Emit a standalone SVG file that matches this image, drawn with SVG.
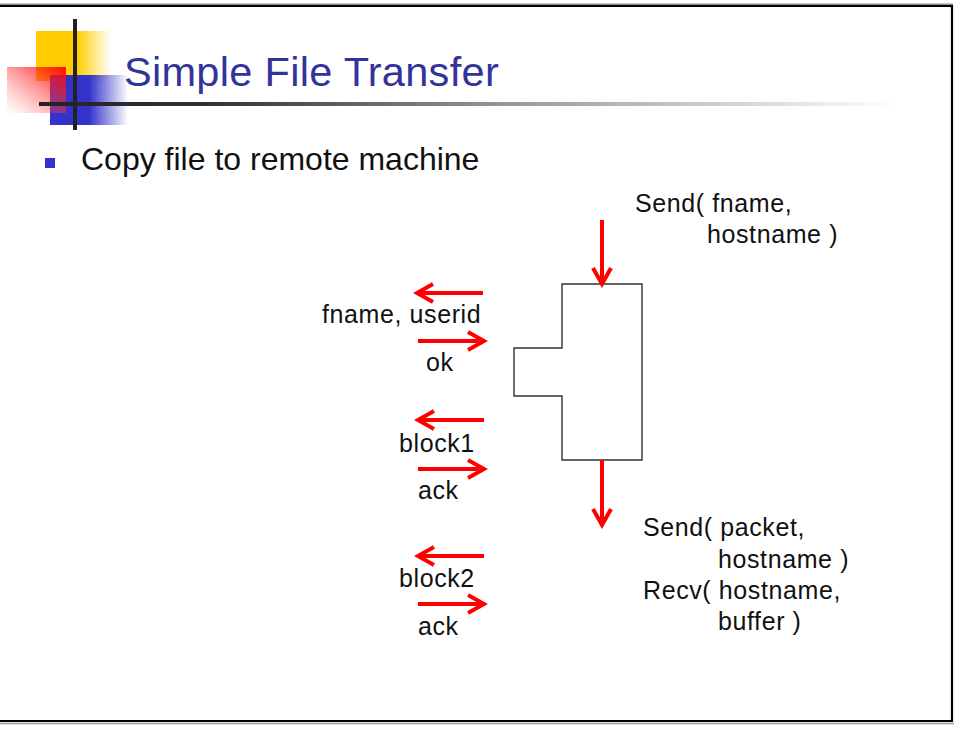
<svg xmlns="http://www.w3.org/2000/svg" width="956" height="729" viewBox="0 0 956 729">
<style>
.t{font-family:"Liberation Sans",Arial,sans-serif;fill:#111;font-size:25px;letter-spacing:0.6px}
.conn{stroke:#ff0000;stroke-width:4;fill:none}
.box{fill:#fff;stroke:#333;stroke-width:1.4}
</style>
<defs>
<marker id="v" viewBox="-20 -12 24 24" refX="0" refY="0" markerWidth="24" markerHeight="24" markerUnits="userSpaceOnUse" orient="auto">
<path d="M-16,-9 L0,0 L-16,9" fill="none" stroke="#ff0000" stroke-width="4" stroke-linejoin="miter"/>
</marker>
<linearGradient id="gy" x1="0" y1="0" x2="1" y2="0">
<stop offset="0" stop-color="#ffcc00"/><stop offset="0.55" stop-color="#ffcc00"/><stop offset="1" stop-color="#ffcc00" stop-opacity="0"/>
</linearGradient>
<linearGradient id="gb" x1="0" y1="0" x2="1" y2="0">
<stop offset="0" stop-color="#3333cc"/><stop offset="0.5" stop-color="#3333cc"/><stop offset="1" stop-color="#3333cc" stop-opacity="0"/>
</linearGradient>
<linearGradient id="gr" x1="1" y1="0" x2="0" y2="1">
<stop offset="0" stop-color="#ff0000" stop-opacity="0.95"/><stop offset="1" stop-color="#ff6666" stop-opacity="0"/>
</linearGradient>
<linearGradient id="gl" x1="0" y1="0" x2="1" y2="0">
<stop offset="0" stop-color="#222"/><stop offset="0.2" stop-color="#333"/><stop offset="0.55" stop-color="#999"/><stop offset="1" stop-color="#fff"/>
</linearGradient>
</defs>
<rect x="0" y="0" width="956" height="729" fill="#fff"/>
<g id="frame" fill="none">
<line x1="0" y1="4" x2="953" y2="4" stroke="#888" stroke-width="1"/>
<line x1="0" y1="5.8" x2="953" y2="5.8" stroke="#000" stroke-width="2.2"/>
<line x1="952" y1="5" x2="952" y2="722" stroke="#000" stroke-width="2.2"/>
<line x1="0" y1="721" x2="953" y2="721" stroke="#000" stroke-width="2.2"/>
<line x1="0" y1="723.5" x2="954" y2="723.5" stroke="#999" stroke-width="1.5"/>
</g>
<g id="logo">
<rect x="36" y="31" width="75" height="50" fill="url(#gy)"/>
<rect x="50" y="75" width="78" height="50" fill="url(#gb)"/>
<rect x="7" y="67" width="59" height="46" fill="url(#gr)"/>
<rect x="73" y="19" width="4" height="111" fill="#222"/>
<rect x="39" y="102" width="860" height="4" fill="url(#gl)"/>
</g>
<g id="title">
<text x="124" y="86" style="font-family:'Liberation Sans',Arial,sans-serif;font-size:41.5px;fill:#333399;letter-spacing:0.3px">Simple File Transfer</text>
</g>
<g id="bullet">
<rect x="45" y="158" width="10" height="10" fill="#3333cc"/>
<text x="81" y="170" class="t" style="font-size:32px;letter-spacing:0">Copy file to remote machine</text>
</g>
<g id="process">
<path class="box" d="M562,284 H642 V460 H562 V396 H514 V348 H562 Z"/>
</g>
<g id="label-send-fname">
<text class="t" x="635" y="211.5">Send( fname,</text>
<text class="t" x="707" y="243">hostname )</text>
</g>
<g id="label-send-recv">
<text class="t" x="643" y="536">Send( packet,</text>
<text class="t" x="718" y="567.5">hostname )</text>
<text class="t" x="643" y="599">Recv( hostname,</text>
<text class="t" x="718" y="630">buffer )</text>
</g>
<g id="msg-labels">
<text class="t" x="322" y="323">fname, userid</text>
<text class="t" x="426" y="371">ok</text>
<text class="t" x="399" y="451.5">block1</text>
<text class="t" x="418" y="499">ack</text>
<text class="t" x="399" y="586.5">block2</text>
<text class="t" x="418" y="635">ack</text>
</g>
<g id="connectors">
<line class="conn" x1="602" y1="220" x2="602" y2="284" marker-end="url(#v)"/>
<line class="conn" x1="602" y1="460" x2="602" y2="525" marker-end="url(#v)"/>
<line class="conn" x1="483" y1="293" x2="417" y2="293" marker-end="url(#v)"/>
<line class="conn" x1="418" y1="341" x2="484" y2="341" marker-end="url(#v)"/>
<line class="conn" x1="484" y1="420" x2="418" y2="420" marker-end="url(#v)"/>
<line class="conn" x1="418" y1="469" x2="484" y2="469" marker-end="url(#v)"/>
<line class="conn" x1="484" y1="556" x2="418" y2="556" marker-end="url(#v)"/>
<line class="conn" x1="418" y1="604" x2="484" y2="604" marker-end="url(#v)"/>
</g>
</svg>
